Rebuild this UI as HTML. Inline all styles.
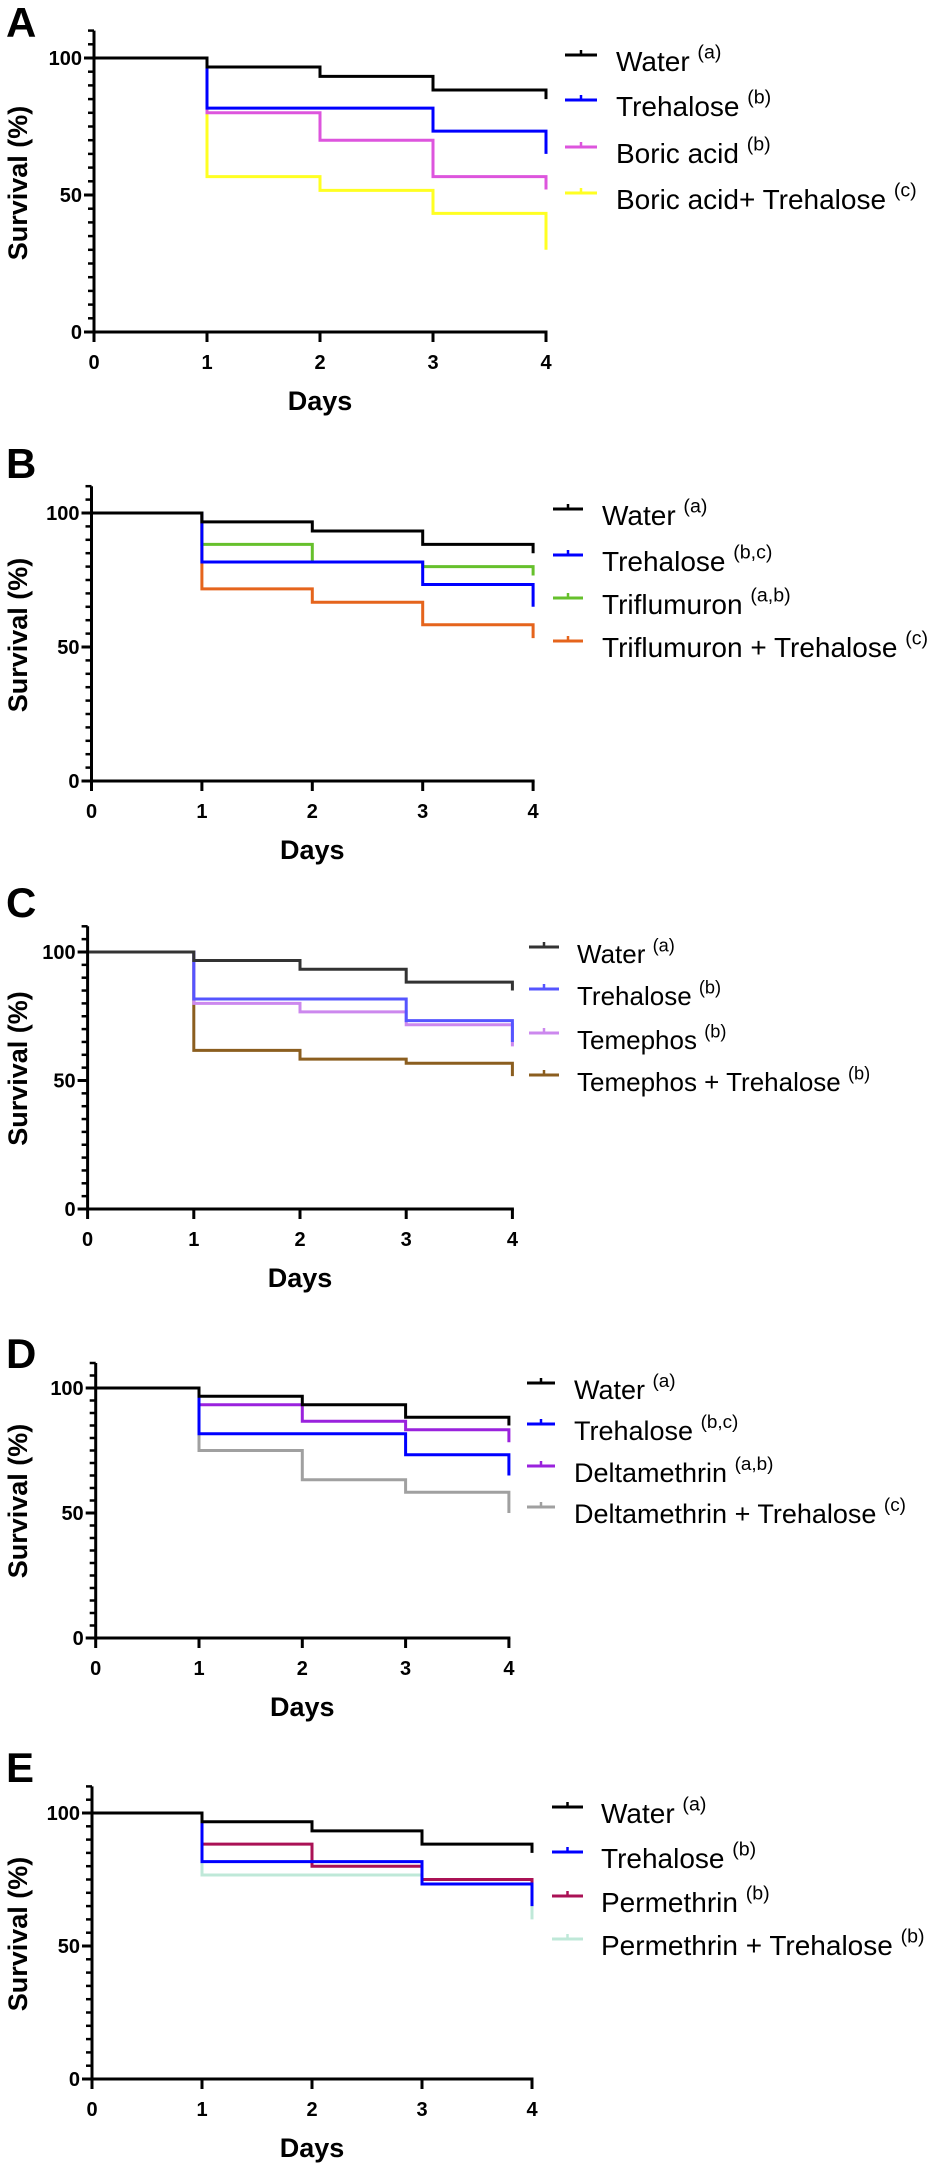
<!DOCTYPE html>
<html><head><meta charset="utf-8"><style>
html,body{margin:0;padding:0;background:#fff;}
svg{display:block;font-family:"Liberation Sans",Arial,sans-serif;}
</style></head><body>
<svg id="fig" width="930" height="2168" viewBox="0 0 930 2168" xmlns="http://www.w3.org/2000/svg"></svg>
<script>
const days = [0, 1, 2, 3, 4];
const yTicks = [0, 50, 100];
// survival values at day 0..4 (last value = final drop at day 4)
const water = [100, 96.7, 93.3, 88.3, 85];
const trehalose = [100, 81.7, 81.7, 73.3, 65];
const boric = [100, 80, 70, 56.7, 52];
const boricTre = [100, 56.7, 51.7, 43.3, 30];
const triflu = [100, 88.3, 81.7, 80, 76.7];
const trifluTre = [100, 71.7, 66.7, 58.3, 53.3];
const temephos = [100, 80, 76.7, 71.7, 63.3];
const temephosTre = [100, 61.7, 58.3, 56.7, 51.7];
const delta = [100, 93.3, 86.7, 83.3, 78.3];
const deltaTre = [100, 75, 63.3, 58.3, 50];
const perm = [100, 88.3, 80, 75, 68.3];
const permTre = [100, 76.7, 76.7, 75, 60];

const panels = [
 {id:'A', ax:94, y0:332, y100:58, dx:113, letterY:22, lg:{x1:565,x2:597,tx:616,ys:[55,100,147,193],fs:28},
  series:[
   {n:'Water',sup:'(a)',c:'#000000',d:water},
   {n:'Trehalose',sup:'(b)',c:'#0000ff',d:trehalose},
   {n:'Boric acid',sup:'(b)',c:'#dd55dd',d:boric},
   {n:'Boric acid+ Trehalose',sup:'(c)',c:'#ffff22',d:boricTre}]},
 {id:'B', ax:91.5, y0:781, y100:513, dx:110.4, letterY:463, lg:{x1:553,x2:583,tx:602,ys:[509,555,598,641],fs:28},
  series:[
   {n:'Water',sup:'(a)',c:'#000000',d:water},
   {n:'Trehalose',sup:'(b,c)',c:'#0000ff',d:trehalose},
   {n:'Triflumuron',sup:'(a,b)',c:'#66c02c',d:triflu},
   {n:'Triflumuron + Trehalose',sup:'(c)',c:'#e5641c',d:trifluTre}]},
 {id:'C', ax:87.6, y0:1209, y100:952, dx:106.2, letterY:902, lg:{x1:529,x2:559,tx:577,ys:[947,989,1033,1075],fs:26},
  series:[
   {n:'Water',sup:'(a)',c:'#333333',d:water},
   {n:'Trehalose',sup:'(b)',c:'#5555ff',d:trehalose},
   {n:'Temephos',sup:'(b)',c:'#cc88ee',d:temephos},
   {n:'Temephos + Trehalose',sup:'(b)',c:'#8b5e1f',d:temephosTre}]},
 {id:'D', ax:95.7, y0:1638, y100:1388, dx:103.3, letterY:1353, lg:{x1:527,x2:555,tx:574,ys:[1383,1424,1466,1507],fs:27},
  series:[
   {n:'Water',sup:'(a)',c:'#000000',d:water},
   {n:'Trehalose',sup:'(b,c)',c:'#0000ff',d:trehalose},
   {n:'Deltamethrin',sup:'(a,b)',c:'#9a22dd',d:delta},
   {n:'Deltamethrin + Trehalose',sup:'(c)',c:'#a0a0a0',d:deltaTre}]},
 {id:'E', ax:92, y0:2079, y100:1813, dx:110, letterY:1767, lg:{x1:552,x2:583,tx:601,ys:[1807,1852,1896,1939],fs:28},
  series:[
   {n:'Water',sup:'(a)',c:'#000000',d:water},
   {n:'Trehalose',sup:'(b)',c:'#0000ff',d:trehalose},
   {n:'Permethrin',sup:'(b)',c:'#aa1155',d:perm},
   {n:'Permethrin + Trehalose',sup:'(b)',c:'#bfe8d8',d:permTre}]}
];

const NS='http://www.w3.org/2000/svg';
const svg=document.getElementById('fig');
function mk(tag,attrs,parent){const e=document.createElementNS(NS,tag);for(const k in attrs)e.setAttribute(k,attrs[k]);(parent||svg).appendChild(e);return e;}

panels.forEach(p=>{
  const g=mk('g',{});
  
  
  const sy=(p.y0-p.y100)/100;
  const Y=v=>p.y0-v*sy;
  const X=d=>p.ax+d*p.dx;
  const top=Y(110);
  const L=mk('text',{x:6,y:p.letterY+15,'font-size':42,'font-weight':'bold'},g);L.textContent=p.id;
  
  
  p.series.slice().reverse().forEach(s=>{
    let pts=[[X(0),Y(s.d[0])]];
    for(let i=1;i<days.length;i++){
      pts.push([X(days[i]),Y(s.d[i-1])]);
      pts.push([X(days[i]),Y(s.d[i])]);
    }
    const pl=mk('polyline',{points:pts.map(q=>q.join(',')).join(' '),fill:'none',stroke:s.c,'stroke-width':3,'stroke-linejoin':'miter'},g);
    
    
  });
  const ya=mk('line',{x1:p.ax,y1:top,x2:p.ax,y2:p.y0,stroke:'#000','stroke-width':3},g);
  
  
  for(let v=0;v<=110;v+=5){
    const major=yTicks.includes(v);
    mk('line',{x1:p.ax-(major?10:6),y1:Y(v),x2:p.ax,y2:Y(v),stroke:'#000','stroke-width':major?3:2.5},g);
  }
  yTicks.forEach(v=>{
    const t=mk('text',{x:p.ax-12,y:Y(v)+7,'font-size':20,'font-weight':'bold','text-anchor':'end'},g);t.textContent=v;
    
    
  });
  const xa=mk('line',{x1:p.ax-1.5,y1:p.y0,x2:X(4)+1.5,y2:p.y0,stroke:'#000','stroke-width':3},g);
  
  
  days.forEach(d=>{
    mk('line',{x1:X(d),y1:p.y0,x2:X(d),y2:p.y0+10,stroke:'#000','stroke-width':3},g);
    const t=mk('text',{x:X(d),y:p.y0+37,'font-size':20,'font-weight':'bold','text-anchor':'middle'},g);t.textContent=d;
    
    
  });
  const xt=mk('text',{x:X(2),y:p.y0+78,'font-size':27,'font-weight':'bold','text-anchor':'middle'},g);xt.textContent='Days';
  
  
  const cy=(p.y100+p.y0)/2-12;
  const yt=mk('text',{x:0,y:0,'font-size':27,'font-weight':'bold','text-anchor':'middle',transform:`translate(27,${cy}) rotate(-90)`},g);yt.textContent='Survival (%)';
  
  
  p.series.forEach((s,i)=>{
    const ly=p.lg.ys[i];
    const lg=mk('g',{},g);
    
    
    mk('line',{x1:p.lg.x1,y1:ly,x2:p.lg.x2,y2:ly,stroke:s.c,'stroke-width':3},lg);
    const mx=(p.lg.x1+p.lg.x2)/2;
    mk('line',{x1:mx,y1:ly,x2:mx,y2:ly-5,stroke:s.c,'stroke-width':2.5},lg);
    const t=mk('text',{x:p.lg.tx,y:ly+16,'font-size':p.lg.fs},lg);
    t.textContent=s.n+' ';
    const sp=mk('tspan',{'font-size':p.lg.fs*0.7,dy:-p.lg.fs*0.45},t);sp.textContent=s.sup;
  });
});
</script>
</body></html>
